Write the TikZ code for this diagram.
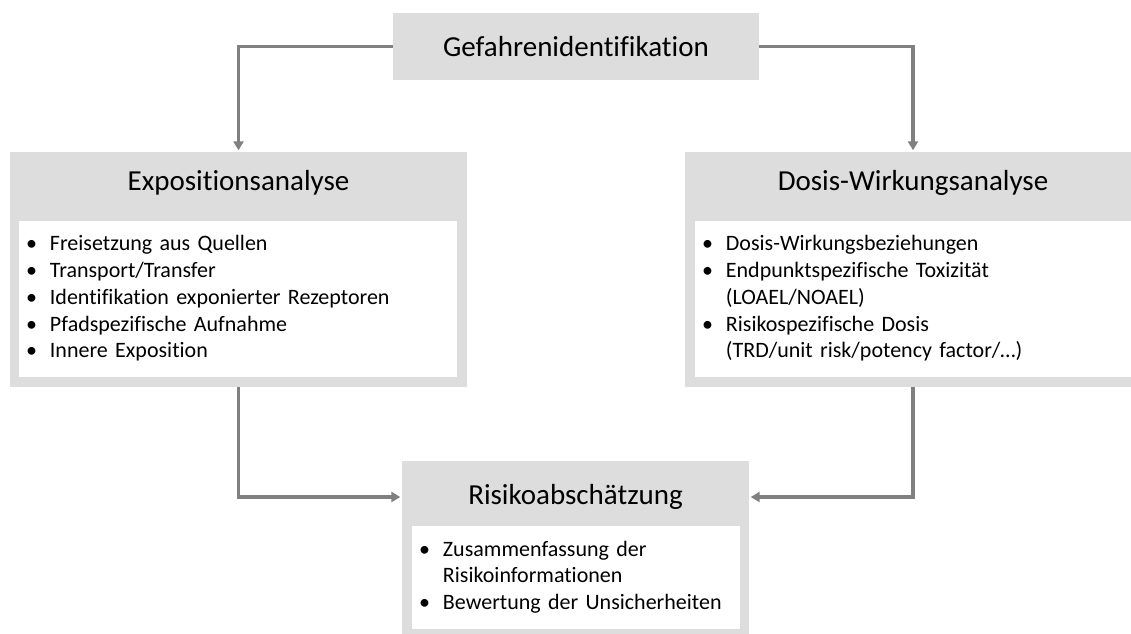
\documentclass[tikz,border=0pt]{standalone}
\usepackage{fontspec}
\setmainfont{Carlito}[Ligatures=NoCommon]
\usetikzlibrary{arrows.meta}

\definecolor{boxgray}{RGB}{221,221,221}
\definecolor{arrowgray}{RGB}{128,128,128}

\newcommand{\headfont}{\fontsize{29}{35}\selectfont}
\newcommand{\listfont}{\fontsize{22}{26.7}\selectfont}

\begin{document}
\begin{tikzpicture}[x=1pt, y=-1pt, >={Triangle[length=9pt, width=10pt]},
	frame/.style={fill=boxgray, inner sep=0pt},
	head/.style={font=\headfont, inner sep=0pt},
	body/.style={fill=white, inner xsep=7pt, inner ysep=0pt, font=\listfont, align=left},
	link/.style={->, draw=arrowgray, line width=3.2pt, shorten >=1.5pt}
]
	\useasboundingbox (0,0) rectangle (1131,633);

	% hazard identification on top
	\node[frame, head, minimum width=366pt, minimum height=67pt] (gefahr)
		at (576,46.5) {Gefahrenidentifikation};

	% exposure analysis (left)
	\node[frame, minimum width=457pt, minimum height=235pt] (expo) at (238.5,269.5) {};
	\node[head] (expohead) at (238.5,183) {Expositionsanalyse};
	\node[body, minimum width=438pt, minimum height=156pt, text width=424pt] (expobody)
		at (238,299) {%
		\begin{tabular}{@{}l@{\hspace{13pt}}l@{}}
			\textbullet & Freisetzung aus Quellen\\
			\textbullet & Transport/Transfer\\
			\textbullet & Identifikation exponierter Rezeptoren\\
			\textbullet & Pfadspezifische Aufnahme\\
			\textbullet & Innere Exposition
		\end{tabular}};

	% dose-response analysis (right)
	\node[frame, minimum width=456pt, minimum height=235pt] (dosis) at (913,269.5) {};
	\node[head] (dosishead) at (913,183) {Dosis-Wirkungsanalyse};
	\node[body, minimum width=436pt, minimum height=156pt, text width=422pt] (dosisbody)
		at (913,299) {%
		\begin{tabular}{@{}l@{\hspace{13pt}}l@{}}
			\textbullet & Dosis-Wirkungsbeziehungen\\
			\textbullet & Endpunktspezifische Toxizität\\
			            & (LOAEL/NOAEL)\\
			\textbullet & Risikospezifische Dosis\\
			            & (TRD/unit risk/potency factor/…)
		\end{tabular}};

	% risk assessment (bottom)
	\node[frame, minimum width=347pt, minimum height=179pt] (risiko) at (575.5,550.5) {};
	\node[head] (risikohead) at (575.5,497) {Risikoabschätzung};
	\node[body, minimum width=328pt, minimum height=103pt, text width=314pt] (risikobody)
		at (576,577.5) {%
		\begin{tabular}{@{}l@{\hspace{13pt}}l@{}}
			\textbullet & Zusammenfassung der\\
			            & Risikoinformationen\\
			\textbullet & Bewertung der Unsicherheiten
		\end{tabular}};

	% connectors
	\draw[link] (gefahr.west) -| (expo.north);
	\draw[link] (gefahr.east) -| (dosis.north);
	\draw[link] (expo.south) |- (risiko.west |- risikohead);
	\draw[link] (dosis.south) |- (risiko.east |- risikohead);

\end{tikzpicture}
\end{document}
